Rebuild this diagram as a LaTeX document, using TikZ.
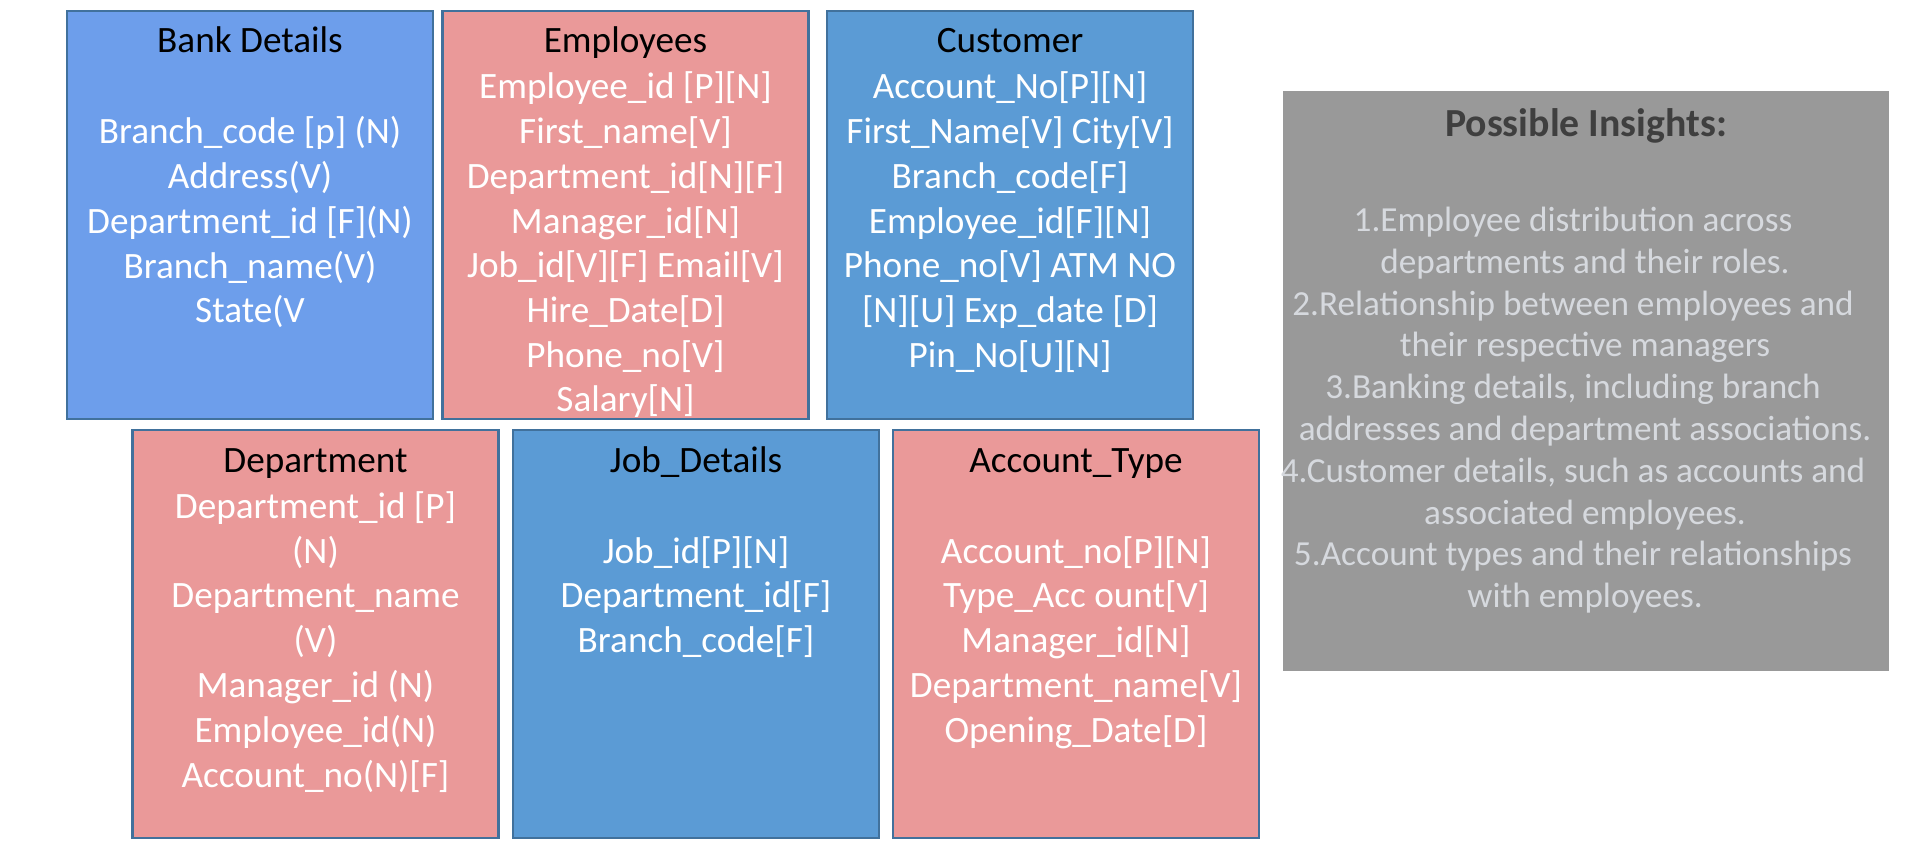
\documentclass[tikz,border=0pt]{standalone}
\usepackage{fontspec}
\setmainfont{Carlito}
\definecolor{bluea}{HTML}{6D9EEB}
\definecolor{blueb}{HTML}{5B9BD5}
\definecolor{pinkc}{HTML}{EA9999}
\definecolor{edgec}{HTML}{41719C}
\definecolor{grayc}{HTML}{999999}
\definecolor{graytxt}{HTML}{D6D9DE}
\definecolor{graytitle}{HTML}{3F3F3F}
\tikzset{
  tbl/.style={draw=edgec, line width=1.25pt, inner sep=0pt, minimum width=183pt, minimum height=204pt},
  ttl/.style={anchor=base, text=black, inner sep=0pt, font=\fontsize{18.6}{22}\selectfont},
  fld/.style={anchor=base, text=white, inner sep=0pt, font=\fontsize{18.6}{22}\selectfont},
  insbox/.style={fill=grayc, inner sep=0pt, minimum width=303pt, minimum height=290pt},
  instl/.style={anchor=base, text=graytitle, inner sep=0pt, font=\bfseries\fontsize{19.9}{23}\selectfont},
  ins/.style={anchor=base, text=graytxt, inner sep=0pt, font=\fontsize{17.6}{21}\selectfont}
}
\begin{document}
\begin{tikzpicture}[x=0.5pt,y=-0.5pt]
\useasboundingbox (0,0) rectangle (1920,849);
% boxes
\node[tbl, fill=bluea] (bank) at (250,215) {};
\node[tbl, fill=pinkc] (emp) at (625.5,215) {};
\node[tbl, fill=blueb] (cust) at (1010,215) {};
\node[tbl, fill=pinkc] (dept) at (315.5,634) {};
\node[tbl, fill=blueb] (job) at (696,634) {};
\node[tbl, fill=pinkc] (acct) at (1076,634) {};
\node[insbox] (ins) at (1586,381) {};
% Bank Details
\node[ttl] (bankT) at (250,53) {Bank Details};
\foreach \t [count=\i] in {Branch\_code [p] (N),Address(V),Department\_id [F](N),Branch\_name(V),State(V}
  \node[fld] (bank\i) at (250,{99.3+44.7*\i}) {\t};
% Employees
\node[ttl] (empT) at (625.5,53) {Employees};
\foreach \t [count=\i] in {Employee\_id [P][N],First\_name[V],Department\_id[N][F],Manager\_id[N],Job\_id[V][F] Email[V],Hire\_Date[D],Phone\_no[V],Salary[N]}
  \node[fld] (emp\i) at (625.5,{54.3+44.7*\i}) {\t};
% Customer
\node[ttl] (custT) at (1010,53) {Customer};
\foreach \t [count=\i] in {Account\_No[P][N],First\_Name[V] City[V],Branch\_code[F],Employee\_id[F][N],Phone\_no[V] ATM NO,[N][U] Exp\_date [D],Pin\_No[U][N]}
  \node[fld] (cust\i) at (1010,{54.3+44.7*\i}) {\t};
% Department
\node[ttl] (deptT) at (315.5,473) {Department};
\foreach \t [count=\i] in {Department\_id [P],(N),Department\_name,(V),Manager\_id (N),Employee\_id(N),Account\_no(N)[F]}
  \node[fld] (dept\i) at (315.5,{473.5+44.8*\i}) {\t};
% Job_Details
\node[ttl] (jobT) at (696,473) {Job\_Details};
\foreach \t [count=\i] in {Job\_id[P][N],Department\_id[F],Branch\_code[F]}
  \node[fld] (job\i) at (696,{518.3+44.8*\i}) {\t};
% Account_Type
\node[ttl] (acctT) at (1076,473) {Account\_Type};
\foreach \t [count=\i] in {Account\_no[P][N],Type\_Acc ount[V],Manager\_id[N],Department\_name[V],Opening\_Date[D]}
  \node[fld] (acct\i) at (1076,{518.3+44.8*\i}) {\t};
% Insights
\node[instl] (insT) at (1586,137) {Possible Insights:};
\node[ins] (i1) at (1573,231.5) {1.Employee distribution across};
\node[ins] (i2) at (1585,273.3) {departments and their roles.};
\node[ins] (i3) at (1573,315.1) {2.Relationship between employees and};
\node[ins] (i4) at (1585,356.9) {their respective managers};
\node[ins] (i5) at (1573,398.7) {3.Banking details, including branch};
\node[ins] (i6) at (1585,440.5) {addresses and department associations.};
\node[ins] (i7) at (1573,482.3) {4.Customer details, such as accounts and};
\node[ins] (i8) at (1585,524.1) {associated employees.};
\node[ins] (i9) at (1573,565.9) {5.Account types and their relationships};
\node[ins] (i10) at (1585,607.7) {with employees.};
\end{tikzpicture}
\end{document}
